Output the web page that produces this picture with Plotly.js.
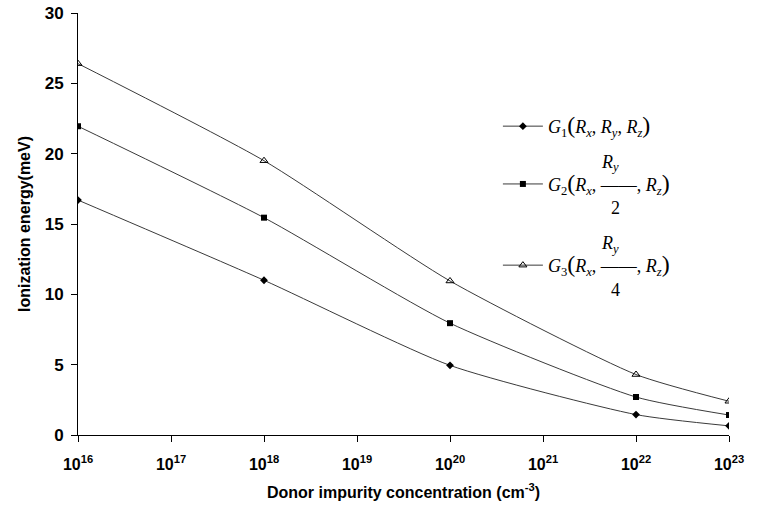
<!DOCTYPE html>
<html>
<head>
<meta charset="utf-8">
<script src="https://cdn.plot.ly/plotly-3.0.1.min.js"></script>
<style>html,body{margin:0;padding:0;background:#fff;}</style>
</head>
<body>
<div id="chart" style="width:761px;height:514px;"></div>
<script>
const concentrations = [1e16, 1e18, 1e20, 1e22, 1e23];
const g1Values = [16.7, 11.0, 4.95, 1.45, 0.65];
const g2Values = [21.95, 15.45, 7.95, 2.7, 1.42];
const g3Values = [26.4, 19.5, 10.95, 4.3, 2.4];
const tickExponents = [16, 17, 18, 19, 20, 21, 22, 23];
const tickValues = tickExponents.map(e => Math.pow(10, e));
const tickLabels = tickExponents.map(e => '10<sup>' + e + '</sup>');

const NB = '\u00a0';
const pad = n => NB.repeat(n);
const big = s => '<span style="font-size:24px">' + s + '</span>';
const g1Name = '<i>G</i><sub>1</sub>' + big('(') + '<i>R<sub>x</sub></i>, <i>R<sub>y</sub></i>, <i>R<sub>z</sub></i>' + big(')');
const g2Name = pad(12) + '<i>R<sub>y</sub></i><br><i>G</i><sub>2</sub>' + big('(') + '<i>R<sub>x</sub></i>, \u2015\u2015, <i>R<sub>z</sub></i>' + big(')') + '<br>' + pad(14) + '2';
const g3Name = pad(12) + '<i>R<sub>y</sub></i><br><i>G</i><sub>3</sub>' + big('(') + '<i>R<sub>x</sub></i>, \u2015\u2015, <i>R<sub>z</sub></i>' + big(')') + '<br>' + pad(14) + '4';

const lineStyle = {shape: 'spline', smoothing: 0.6, color: '#3a3a3a', width: 1};
const traces = [
  {x: concentrations, y: g1Values, name: g1Name, mode: 'lines+markers', line: lineStyle,
   marker: {symbol: 'diamond', size: 6, color: '#000'}, legendgroup: 'a'},
  {x: concentrations, y: g2Values, name: g2Name, mode: 'lines+markers', line: lineStyle,
   marker: {symbol: 'square', size: 6, color: '#000'}, legendgroup: 'b'},
  {x: concentrations, y: g3Values, name: g3Name, mode: 'lines+markers', line: lineStyle,
   marker: {symbol: 'triangle-up-open', size: 7, color: '#000', line: {width: 1}}, legendgroup: 'c'}
];

const layout = {
  width: 761, height: 514,
  margin: {l: 78, r: 32, t: 13, b: 79},
  paper_bgcolor: '#fff', plot_bgcolor: '#fff',
  font: {family: 'Liberation Sans, Arial, sans-serif', color: '#000'},
  xaxis: {
    type: 'log', range: [16, 23],
    tickvals: tickValues, ticktext: tickLabels,
    ticks: 'outside', ticklen: 6, tickcolor: '#000',
    ticklabelstandoff: 9,
    showline: true, linecolor: '#000', linewidth: 1,
    showgrid: false, zeroline: false,
    tickfont: {size: 16, family: 'Liberation Sans, Arial, sans-serif', weight: 'bold'},
    title: {text: '<b>Donor impurity concentration (cm<sup>-3</sup>)</b>', font: {size: 16}, standoff: 14}
  },
  yaxis: {
    range: [0, 30], dtick: 5, tick0: 0,
    ticks: 'outside', ticklen: 6, tickcolor: '#000',
    ticklabelstandoff: 4,
    showline: true, linecolor: '#000', linewidth: 1,
    showgrid: false, zeroline: false,
    tickfont: {size: 17, weight: 'bold'},
    title: {text: '<b>Ionization energy(meV)</b>', font: {size: 16}, standoff: 10}
  },
  showlegend: true,
  legend: {
    x: 0.645, y: 0.775, xanchor: 'left', yanchor: 'top',
    traceorder: 'grouped', tracegroupgap: 8,
    font: {family: 'Liberation Serif, Times New Roman, serif', size: 18, color: '#000'},
    bgcolor: 'rgba(0,0,0,0)', itemwidth: 40
  }
};

Plotly.newPlot('chart', traces, layout, {displayModeBar: false, staticPlot: true});
</script>
</body>
</html>
